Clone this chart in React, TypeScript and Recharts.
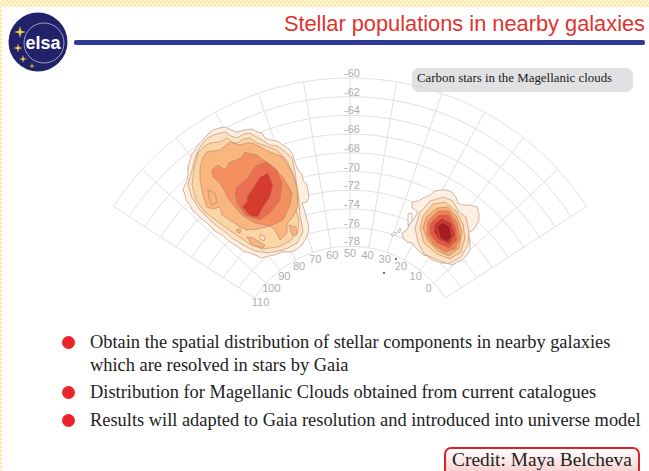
import React from 'react';
import { ScatterChart, Scatter, XAxis, YAxis, Curve } from 'recharts';

type Pt = [number, number];

const title = 'Stellar populations in nearby galaxies';
const boxLabel = 'Carbon stars in the Magellanic clouds';
const creditLabel = 'Credit: Maya Belcheva';

const decLevels = [-60, -62, -64, -66, -68, -70, -72, -74, -76, -78];
const raLevels = [-10, 0, 10, 20, 30, 40, 50, 60, 70, 80, 90, 100, 110];
const raTickLabels = [0, 10, 20, 30, 40, 50, 60, 70, 80, 90, 100, 110];

// large cloud, outermost level first
const lmcLevels: { color: string; points: Pt[] }[] = [
  { color: '#feeedd', points: [[213,130],[219,128],[225,127],[231,130],[237,132],[245,130],[252,129],[257,132],[262,133],[265,138],[270,140],[277,141],[283,145],[289,149],[293,155],[295,163],[298,170],[302,174],[303,180],[307,185],[308,190],[309,197],[307,202],[302,203],[305,212],[307,220],[309,227],[308,233],[305,240],[302,245],[296,250],[290,252],[282,252],[275,255],[268,256],[262,258],[255,255],[250,253],[243,251],[238,247],[230,242],[222,235],[215,231],[208,224],[203,220],[198,215],[192,210],[190,205],[186,200],[185,195],[183,190],[184,187],[187,181],[188,175],[188,167],[190,160],[192,154],[195,150],[199,144],[203,140],[208,134]] },
  { color: '#fde2c2', points: [[195,158],[199,149],[203,143],[208,138],[213,135],[225,132],[231,136],[237,138],[244,134],[250,133],[256,137],[262,140],[270,145],[277,146],[283,150],[292,158],[295,172],[297,187],[299,201],[300,215],[303,232],[297,243],[290,247],[283,250],[268,253],[255,251],[247,247],[240,243],[232,238],[225,232],[212,222],[200,210],[192,198],[188,185],[192,170]] },
  { color: '#fcd5a4', points: [[198,153],[204,147],[210,143],[220,142],[227,138],[232,142],[237,143],[244,139],[250,138],[257,143],[263,145],[277,150],[288,162],[295,180],[298,200],[295,207],[299,220],[298,232],[290,241],[278,247],[262,249],[248,243],[232,232],[218,222],[205,212],[196,200],[192,185],[194,168]] },
  { color: '#f9b77f', points: [[203,157],[207,152],[214,151],[220,150],[225,146],[230,142],[240,145],[247,143],[253,143],[262,148],[270,152],[283,157],[292,172],[297,187],[298,207],[292,218],[287,224],[287,233],[280,240],[275,230],[270,226],[258,229],[247,230],[240,227],[233,222],[222,215],[220,207],[213,209],[207,207],[203,195],[200,180],[200,168]] },
  { color: '#f48f5f', points: [[212,170],[218,165],[225,170],[228,165],[230,162],[236,160],[242,157],[245,152],[251,154],[257,155],[270,165],[283,177],[292,193],[290,205],[283,220],[270,226],[255,223],[242,215],[235,207],[228,198],[224,190],[220,183],[213,177]] },
  { color: '#e96f50', points: [[237,187],[242,183],[248,178],[252,171],[257,165],[267,162],[277,170],[282,183],[280,200],[270,213],[260,220],[245,215],[237,203],[235,193]] },
  { color: '#d63c2e', points: [[247,197],[251,191],[255,185],[260,177],[268,173],[273,185],[270,197],[263,207],[258,217],[250,216],[242,207],[247,202]] },
];

// small patches inside the large cloud
const lmcPatches: { color: string; points: Pt[] }[] = [
  { color: '#f9b77f', points: [[208,190],[215,193],[217,202],[212,205],[209,198]] },
  { color: '#f9b77f', points: [[247,237],[253,238],[265,245],[263,248],[252,245]] },
  { color: '#f9b77f', points: [[289,225],[296,227],[297,235],[292,235]] },
  { color: '#f9b77f', points: [[237,229],[241,230],[240,233],[237,232]] },
  { color: '#fde2c2', points: [[260,234],[265,237],[264,241],[260,239]] },
];

// small cloud, outermost level first
const smcLevels: { color: string; points: Pt[] }[] = [
  { color: '#fdf0e2', points: [[412,202],[418,201],[423,198],[430,195],[435,191],[440,190],[447,190],[452,192],[456,197],[458,203],[463,205],[470,205],[477,207],[479,214],[479,220],[476,226],[473,230],[468,233],[470,240],[470,250],[467,255],[462,260],[457,262],[452,265],[447,263],[442,263],[432,260],[428,256],[423,255],[415,247],[412,243],[407,242],[403,238],[402,233],[407,230],[409,225],[413,220],[418,212],[412,208]] },
  { color: '#fde3c4', points: [[420,212],[425,207],[430,201],[437,199],[443,197],[453,201],[459,212],[466,217],[469,232],[468,245],[461,257],[448,264],[441,261],[435,259],[424,254],[418,242],[415,228]] },
  { color: '#fbcf9c', points: [[423,216],[433,204],[445,202],[456,211],[463,224],[465,238],[461,252],[450,259],[437,254],[424,243],[420,228]] },
  { color: '#f7aa73', points: [[426,217],[437,208],[448,207],[457,217],[462,232],[459,248],[449,256],[438,251],[428,241],[423,228]] },
  { color: '#ef8458', points: [[428,221],[438,211],[449,211],[457,223],[460,238],[455,249],[445,252],[434,245],[427,234]] },
  { color: '#e4593f', points: [[430,224],[439,215],[449,215],[456,228],[457,240],[449,248],[437,243],[430,234]] },
  { color: '#cf2f27', points: [[434,225],[442,218],[451,223],[455,235],[449,244],[439,240],[434,233]] },
  { color: '#a71c20', points: [[437,226],[443,222],[450,227],[452,237],[447,242],[440,238]] },
];

// pockets and outliers around the small cloud
const smcStrays: { color: string; points: Pt[] }[] = [
  { color: '#ffffff', points: [[391,235],[395,232],[397,233],[394,236]] },
  { color: '#ffffff', points: [[398,231],[400,228],[401,230],[399,233]] },
];
const smcPockets: { color: string; points: Pt[] }[] = [
  { color: '#ffffff', points: [[408,214],[412,213],[412,221],[408,226]] },
];

const strayStars: Pt[] = [[384,273],[396,259]];

const bullets = [
  { lines: ['Obtain the spatial distribution of stellar components in nearby galaxies', 'which are resolved in stars by Gaia'], mid: 342 },
  { lines: ['Distribution for Magellanic Clouds obtained from current catalogues'], mid: 392 },
  { lines: ['Results will adapted to Gaia resolution and introduced into universe model'], mid: 420 },
];

// sky projection of the map
const CX = 350;
const CY = 360;
const project = (ra: number, dec: number, extra = 0) => {
  const r = 282 - ((dec + 60) / -2) * 18.7 + extra;
  const a = (((50 - ra) * 0.95) * Math.PI) / 180;
  return { x: CX + r * Math.sin(a), y: CY - r * Math.cos(a) };
};

const parallel = (dec: number) => {
  const out: { x: number; y: number }[] = [];
  for (let ra = -10; ra <= 110; ra += 4) out.push(project(ra, dec));
  return out;
};
const meridian = (ra: number) => [project(ra, -60), project(ra, -78)];

const decTicks = decLevels.map((d) => ({ x: CX + 2, y: project(50, d).y - 5, label: String(d) }));
const raTicks = raTickLabels.map((ra) => ({ ...project(ra, -78, -7), label: String(ra) }));

const toRows = (pts: Pt[]) => pts.map(([x, y]) => ({ x, y }));

const blob = (color: string) => (p: any) => (
  <Curve
    points={p.points}
    type="linearClosed"
    fill={color}
    stroke="#b07a68"
    strokeWidth={0.55}
  />
);

const tickShape = (p: any) => (
  <text
    x={p.cx}
    y={p.cy}
    textAnchor="middle"
    dominantBaseline="central"
    fontFamily="Liberation Sans"
    fontSize={11}
    fill="#adadad"
  >
    {p.payload.label}
  </text>
);

const noPoint = () => <g />;
const starDot = (p: any) => <circle cx={p.cx} cy={p.cy} r={1} fill="#8a2a2a" />;

const Logo = () => (
  <svg width={70} height={80} style={{ position: 'absolute', left: 0, top: 0 }}>
    <circle cx={38} cy={42} r={29.5} fill="#22226b" />
    <circle cx={44} cy={43} r={20} fill="none" stroke="#b9bbdc" strokeWidth={0.8} />
    <text x={43} y={49} textAnchor="middle" fontFamily="Liberation Sans" fontWeight="bold" fontSize={18} fill="#fff">
      elsa
    </text>
    {[[20, 32, 6], [18, 48, 4.5], [23, 59, 4], [32, 66, 3]].map(([x, y, s]) => (
      <polygon
        key={x + '-' + y}
        points={`${x},${y - s} ${x + s * 0.2},${y - s * 0.2} ${x + s},${y} ${x + s * 0.2},${y + s * 0.2} ${x},${y + s} ${x - s * 0.2},${y + s * 0.2} ${x - s},${y} ${x - s * 0.2},${y - s * 0.2}`}
        fill="#f2cf45"
      />
    ))}
  </svg>
);

export default function App() {
  const serif = 'Liberation Serif';
  return (
    <div style={{ position: 'absolute', left: 0, top: 0, width: 649, height: 471, overflow: 'hidden', background: '#fff' }}>
      <div style={{ position: 'absolute', left: 0, top: 0, width: 649, height: 7, background: 'repeating-conic-gradient(#fbe7a6 0 25%, #fff8dc 0 50%) 0 0 / 4px 4px' }} />
      <div style={{ position: 'absolute', left: 0, top: 0, width: 2, height: 471, background: 'repeating-conic-gradient(#fbe7a6 0 25%, #fff8dc 0 50%) 0 0 / 4px 4px' }} />

      <div style={{ position: 'absolute', left: 74, top: 40, width: 571, height: 5, background: '#2e3a94', borderRadius: 2 }} />
      <Logo />
      <div style={{ position: 'absolute', right: 4, top: 11, fontFamily: 'Liberation Sans', fontSize: 21.8, color: '#e1322f', whiteSpace: 'nowrap' }}>
        {title}
      </div>

      <div style={{ position: 'absolute', left: 0, top: 0 }}>
        <ScatterChart width={649} height={471} margin={{ top: 0, right: 0, bottom: 0, left: 0 }}>
          <XAxis type="number" dataKey="x" domain={[0, 649]} hide />
          <YAxis type="number" dataKey="y" domain={[0, 471]} reversed hide />
          {decLevels.map((d) => (
            <Scatter key={'dec' + d} data={parallel(d)} shape={noPoint} line={{ stroke: '#dcdcdc', strokeWidth: 0.9 }} lineJointType="monotoneX" isAnimationActive={false} />
          ))}
          {raLevels.map((ra) => (
            <Scatter key={'ra' + ra} data={meridian(ra)} shape={noPoint} line={{ stroke: '#dcdcdc', strokeWidth: 0.9 }} isAnimationActive={false} />
          ))}
          {[...lmcLevels, ...lmcPatches, ...smcStrays, ...smcLevels, ...smcPockets].map((lvl, i) => (
            <Scatter key={'lvl' + i} data={toRows(lvl.points)} shape={noPoint} line={blob(lvl.color)} isAnimationActive={false} />
          ))}
          <Scatter data={toRows(strayStars)} shape={starDot} isAnimationActive={false} />
          <Scatter data={decTicks} shape={tickShape} isAnimationActive={false} />
          <Scatter data={raTicks} shape={tickShape} isAnimationActive={false} />
        </ScatterChart>
      </div>

      <div style={{ position: 'absolute', left: 412, top: 68, width: 221, height: 24, boxSizing: 'border-box', padding: '3px 0 0 5px', background: 'rgba(214,214,218,0.72)', borderRadius: 7, fontFamily: serif, fontSize: 12.9, color: '#222', whiteSpace: 'nowrap' }}>
        {boxLabel}
      </div>

      {bullets.map((b) => (
        <React.Fragment key={b.mid}>
          <div style={{ position: 'absolute', left: 62, top: b.mid - 6.5, width: 13, height: 13, borderRadius: '50%', background: '#e9242b' }} />
          <div style={{ position: 'absolute', left: 90, top: b.mid - 11.5, fontFamily: serif, fontSize: 18.4, lineHeight: '23px', color: '#222', whiteSpace: 'nowrap' }}>
            {b.lines.map((l) => (
              <div key={l}>{l}</div>
            ))}
          </div>
        </React.Fragment>
      ))}

      <div style={{ position: 'absolute', left: 444, top: 447, width: 196, height: 30, boxSizing: 'border-box', border: '2px solid #d8232a', borderRadius: 7, background: 'linear-gradient(#ffffff, #f9c9c9)', padding: '0 0 0 6px', fontFamily: serif, fontSize: 19.4, color: '#222', whiteSpace: 'nowrap' }}>
        {creditLabel}
      </div>
    </div>
  );
}
